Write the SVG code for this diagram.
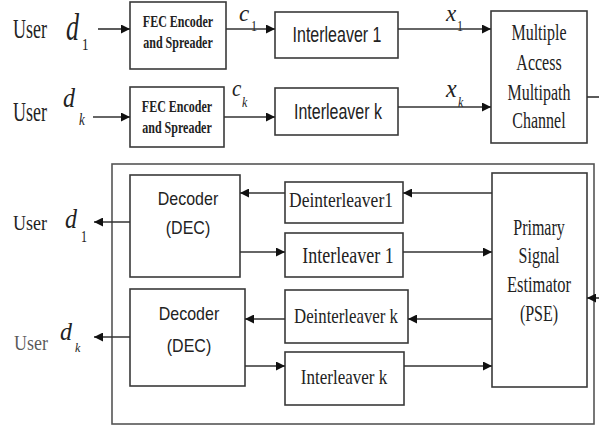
<svg xmlns="http://www.w3.org/2000/svg" width="599" height="427" viewBox="0 0 599 427">
<defs>
<marker id="ah" viewBox="0 0 10 10" refX="10" refY="5" markerWidth="9" markerHeight="9" markerUnits="userSpaceOnUse" orient="auto">
<path d="M0,0 L10,5 L0,10 z" fill="#111"/>
</marker>
</defs>
<style>
.box{fill:#fff;stroke:#3a3a3a;stroke-width:1.6}
.ln{fill:none;stroke:#333;stroke-width:1.6;marker-end:url(#ah)}
.plain{fill:none;stroke:#333;stroke-width:1.6}
.tm{font-family:"Liberation Serif",serif;fill:#222}
.ar{font-family:"Liberation Sans",sans-serif;fill:#222}
.it{font-family:"Liberation Serif",serif;font-style:italic;fill:#222}
.bd{font-family:"Liberation Serif",serif;font-weight:bold;fill:#222;font-size:12px}
</style>
<rect width="599" height="427" fill="#fff"/>

<g id="outer"><rect x="112" y="164" width="482" height="260" fill="none" stroke="#555" stroke-width="1.6"/></g>

<g id="user1-in">
<text class="tm" font-size="18" transform="matrix(1,0,0,1.5,13,38)">User</text>
<text class="it" font-size="26" transform="matrix(1,0,0,1.45,66,40)">d</text>
<text class="tm" font-size="13" transform="matrix(1,0,0,1.3,82,50)">1</text>
</g>
<g id="userk-in">
<text class="tm" font-size="18" transform="matrix(1,0,0,1.5,13,121)">User</text>
<text class="it" font-size="24" transform="matrix(1,0,0,1.15,63,107)">d</text>
<text class="it" font-size="13" transform="matrix(1,0,0,1.3,79,125)">k</text>
</g>

<g id="fec1">
<rect class="box" x="130" y="2" width="96" height="67"/>
<text class="bd" text-anchor="middle" transform="matrix(1,0,0,1.45,178,27)">FEC Encoder</text>
<text class="bd" text-anchor="middle" transform="matrix(1,0,0,1.45,178,48)">and Spreader</text>
</g>
<g id="feck">
<rect class="box" x="130" y="87" width="94" height="60"/>
<text class="bd" text-anchor="middle" transform="matrix(1,0,0,1.45,177,112)">FEC Encoder</text>
<text class="bd" text-anchor="middle" transform="matrix(1,0,0,1.45,177,133)">and Spreader</text>
</g>
<g id="int1">
<rect class="box" x="275" y="12" width="123" height="46"/>
<text class="ar" font-size="16" text-anchor="middle" transform="matrix(1,0,0,1.4,337,42)">Interleaver 1</text>
</g>
<g id="intk">
<rect class="box" x="275" y="88" width="123" height="47"/>
<text class="ar" font-size="16" text-anchor="middle" transform="matrix(1,0,0,1.4,338,119)">Interleaver k</text>
</g>
<g id="channel">
<rect class="box" x="491" y="11" width="96" height="132"/>
<text class="tm" font-size="16" text-anchor="middle" transform="matrix(1,0,0,1.4,539,40)">Multiple</text>
<text class="tm" font-size="16" text-anchor="middle" transform="matrix(1,0,0,1.4,539,70)">Access</text>
<text class="tm" font-size="16" text-anchor="middle" transform="matrix(1,0,0,1.4,539,100)">Multipath</text>
<text class="tm" font-size="16" text-anchor="middle" transform="matrix(1,0,0,1.4,539,128)">Channel</text>
</g>

<g id="labels">
<text class="it" font-size="23" x="239" y="21">c</text>
<text class="tm" font-size="12" transform="matrix(1,0,0,1.3,251,31)">1</text>
<text class="it" font-size="21" transform="matrix(1,0,0,1.05,232,96)">c</text>
<text class="it" font-size="12" transform="matrix(1,0,0,1.2,242,107)">k</text>
<text class="it" font-size="23" x="446" y="21">x</text>
<text class="tm" font-size="12" transform="matrix(1,0,0,1.3,457,31)">1</text>
<text class="it" font-size="24" transform="matrix(1,0,0,1.05,446,97)">x</text>
<text class="it" font-size="12" transform="matrix(1,0,0,1.2,458,107)">k</text>
</g>

<g id="user1-out">
<text class="tm" font-size="18" transform="matrix(1,0,0,1.15,13,230)">User</text>
<text class="it" font-size="24" transform="matrix(1,0,0,1.1,65,228)">d</text>
<text class="tm" font-size="12" transform="matrix(1,0,0,1.35,81,242)">1</text>
</g>
<g id="userk-out">
<text class="tm" font-size="18" fill-opacity="0.75" transform="matrix(1,0,0,1.15,14,350)">User</text>
<text class="it" font-size="24" transform="matrix(1,0,0,1.05,60,340)">d</text>
<text class="it" font-size="12" x="75" y="352">k</text>
</g>

<g id="dec1">
<rect class="box" x="130" y="175" width="110" height="102"/>
<text class="ar" font-size="16" text-anchor="middle" transform="matrix(1,0,0,1.15,188,205)">Decoder</text>
<text class="ar" font-size="16" text-anchor="middle" transform="matrix(1,0,0,1.15,188,234)">(DEC)</text>
</g>
<g id="deck">
<rect class="box" x="130" y="289" width="115" height="97"/>
<text class="ar" font-size="16" text-anchor="middle" transform="matrix(1,0,0,1.15,189,320)">Decoder</text>
<text class="ar" font-size="16" text-anchor="middle" transform="matrix(1,0,0,1.15,189,352)">(DEC)</text>
</g>
<g id="deint1">
<rect class="box" x="285" y="182" width="118" height="41"/>
<text class="tm" font-size="17.5" text-anchor="middle" transform="matrix(1,0,0,1.25,341,207)">Deinterleaver1</text>
</g>
<g id="int1b">
<rect class="box" x="285" y="233" width="118" height="44"/>
<text class="tm" font-size="18" text-anchor="middle" transform="matrix(1,0,0,1.25,348,263)">Interleaver 1</text>
</g>
<g id="deintk">
<rect class="box" x="285" y="290" width="123" height="53"/>
<text class="tm" font-size="16.8" text-anchor="middle" transform="matrix(1,0,0,1.25,346,323)">Deinterleaver k</text>
</g>
<g id="intkb">
<rect class="box" x="285" y="352" width="119" height="53"/>
<text class="tm" font-size="17" text-anchor="middle" transform="matrix(1,0,0,1.25,344,384)">Interleaver k</text>
</g>
<g id="pse">
<rect class="box" x="492" y="173" width="95" height="214"/>
<text class="tm" font-size="16" text-anchor="middle" transform="matrix(1,0,0,1.4,539,235)">Primary</text>
<text class="tm" font-size="16" text-anchor="middle" transform="matrix(1,0,0,1.4,539,263)">Signal</text>
<text class="tm" font-size="16.5" text-anchor="middle" transform="matrix(1,0,0,1.4,539,292)">Estimator</text>
<text class="tm" font-size="16" text-anchor="middle" transform="matrix(1,0,0,1.4,539,321)">(PSE)</text>
</g>

<g id="connectors">
<line class="ln" x1="98" y1="29" x2="130" y2="29"/>
<line class="ln" x1="93" y1="117" x2="130" y2="117"/>
<line class="ln" x1="226" y1="29" x2="275" y2="29"/>
<line class="ln" x1="224" y1="117" x2="275" y2="117"/>
<line class="ln" x1="398" y1="29" x2="491" y2="29"/>
<line class="ln" x1="398" y1="107" x2="491" y2="107" stroke-width="2.2"/>
<line class="plain" x1="587" y1="97" x2="599" y2="97"/>
<line class="ln" x1="599" y1="298" x2="587" y2="298"/>
<line class="ln" x1="492" y1="193" x2="403" y2="193"/>
<line class="ln" x1="285" y1="193" x2="240" y2="193"/>
<line class="ln" x1="240" y1="252" x2="285" y2="252"/>
<line class="ln" x1="403" y1="252" x2="492" y2="252"/>
<line class="ln" x1="492" y1="319" x2="408" y2="319"/>
<line class="ln" x1="285" y1="319" x2="245" y2="319"/>
<line class="ln" x1="245" y1="366" x2="285" y2="366" stroke-width="2.2"/>
<line class="ln" x1="404" y1="366" x2="492" y2="366" stroke-width="2.2"/>
<line class="ln" x1="130" y1="222" x2="94" y2="222"/>
<line class="ln" x1="130" y1="337" x2="94" y2="337"/>
</g>
</svg>
